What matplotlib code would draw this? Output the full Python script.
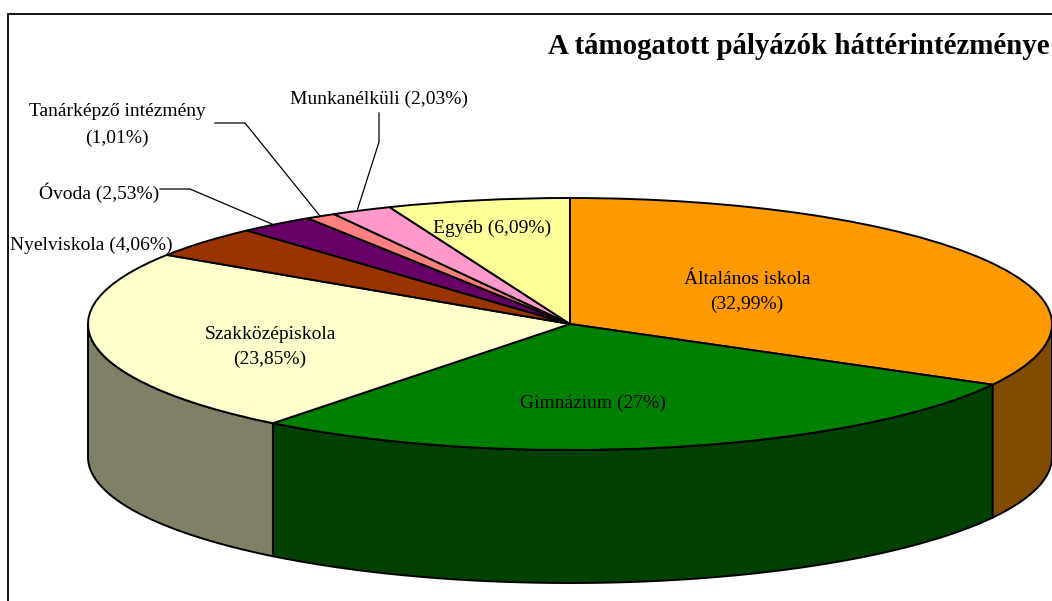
import numpy as np
import matplotlib
matplotlib.use("Agg")
import matplotlib.pyplot as plt

W, H = 1052, 601
CX, CY, RX, RY, DEPTH = 570, 324, 482, 126, 133

categories = ["Általános iskola", "Gimnázium", "Szakközépiskola", "Nyelviskola",
              "Óvoda", "Tanárképző intézmény", "Munkanélküli", "Egyéb"]
values = [32.9, 27.5, 23.6, 4.06, 2.53, 1.01, 2.03, 6.09]
value_labels = ["32,99%", "27%", "23,85%", "4,06%", "2,53%", "1,01%", "2,03%", "6,09%"]
top_colors = ["#FF9900", "#008000", "#FFFFCC", "#993300", "#660066", "#FF8080", "#FF99CC", "#FFFF99"]
side_colors = ["#804D00", "#004000", "#808066", "#4D1A00", "#330033", "#804040", "#804D66", "#80804D"]
title = "A támogatott pályázók háttérintézménye"

plt.rcParams["font.family"] = ["Liberation Serif", "DejaVu Serif"]
fig = plt.figure(figsize=(W / 100, H / 100), dpi=100, facecolor="white")

# unit circle -> ellipse in pixels
ax = fig.add_axes([0, 0, 1, 1])
ax.patch.set_alpha(0)
wedges, _ = ax.pie(values, colors=top_colors, startangle=90, counterclock=False, radius=1,
                   wedgeprops=dict(edgecolor="black", linewidth=1.4), frame=False)
ax.set_aspect("auto")
ax.set_xlim(-CX / RX, (W - CX) / RX)
ax.set_ylim(-(H - CY) / RY, CY / RY)
ax.axis("off")

# overlay in pixel coordinates for frame, leaders and labels
bg = fig.add_axes([0, 0, 1, 1], zorder=3)
bg.set_xlim(0, W)
bg.set_ylim(H, 0)
bg.axis("off")

# side walls
d = DEPTH / RY
for w, sc in zip(wedges, side_colors):
    t1, t2 = w.theta1, w.theta2
    ts = np.linspace(t1, t2, 240)
    ts = ts[np.sin(np.radians(ts)) <= 0]
    if len(ts) < 2:
        continue
    a = np.radians(ts)
    xs = np.cos(a)
    ys = np.sin(a)
    px = np.concatenate([xs, xs[::-1]])
    py = np.concatenate([ys, ys[::-1] - d])
    ax.fill(px, py, facecolor=sc, edgecolor="black", linewidth=1.4, zorder=0.5, clip_on=False)

# frame
bg.plot([8, 8, W], [H, 14, 14], color="black", lw=1.3, solid_joinstyle="miter")

txt = dict(fontsize=14, color="black", ha="center", va="center", zorder=5)
lab = [f"{c} ({v})" for c, v in zip(categories, value_labels)]
bg.text(1050, 47, title, fontsize=20.8, fontweight="bold", ha="right", va="center")
bg.text(747, 292, f"{categories[0]}\n({value_labels[0]})", linespacing=1.65, **txt)
bg.text(593, 403, lab[1], **txt)
bg.text(270, 347, f"{categories[2]}\n({value_labels[2]})", linespacing=1.65, **txt)
bg.text(91, 245, lab[3], **txt)
bg.text(99, 193, lab[4], **txt)
bg.text(117, 125, f"{categories[5]}\n({value_labels[5]})", linespacing=1.7, **txt)
bg.text(379.5, 99, lab[6], **txt)
bg.text(492, 228, lab[7], **txt)

# leader lines
leader = dict(color="black", lw=0.9, zorder=4)
bg.plot([160, 190, 272], [189, 189, 224], **leader)
bg.plot([215, 245, 320], [123, 123, 216], **leader)
bg.plot([379, 379, 357], [113, 142, 211], **leader)

fig.savefig("out.png", dpi=100, facecolor="white")
